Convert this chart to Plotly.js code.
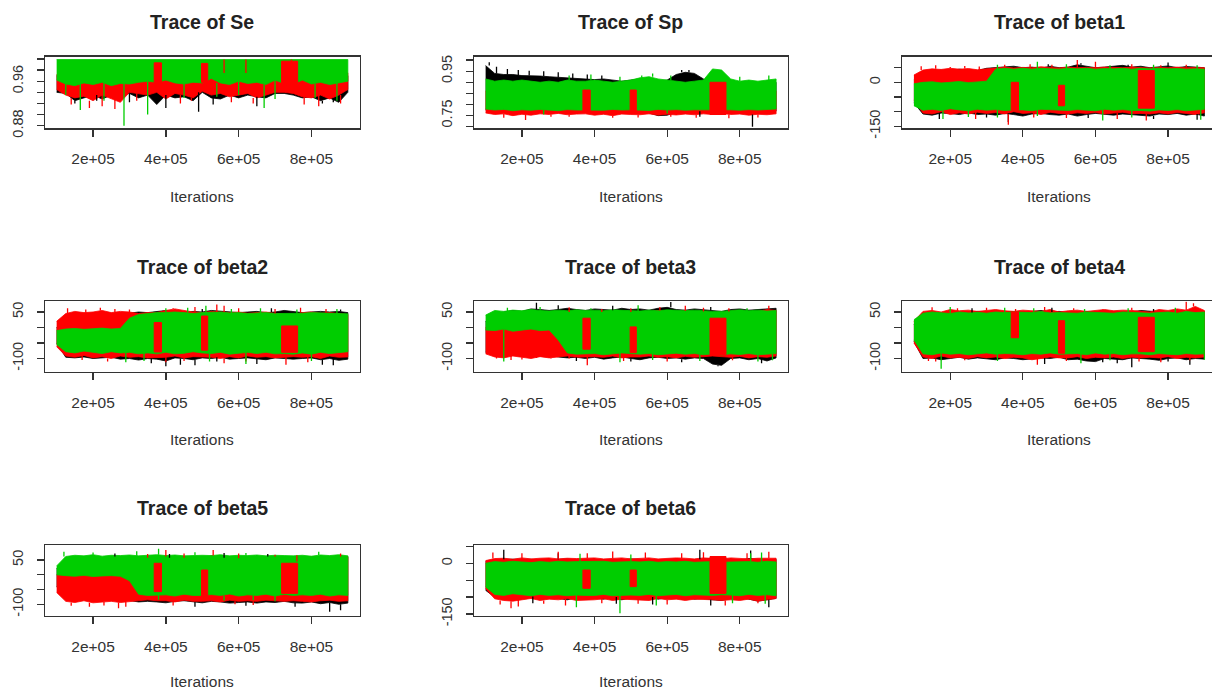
<!DOCTYPE html>
<html><head><meta charset="utf-8">
<script src="https://cdn.plot.ly/plotly-3.0.1.min.js"></script>
<style>html,body{margin:0;padding:0;overflow:hidden;background:#fff}#chart{width:1220px;height:694px}</style>
</head><body><div id="chart"></div>
<script>
// ---------- iterations (bin positions of the envelopes) ----------
const iters = [100000,125000,150000,175000,200000,225000,250000,275000,300000,325000,350000,
               375000,400000,425000,450000,475000,500000,525000,550000,575000,600000,625000,
               650000,675000,700000,725000,750000,775000,800000,825000,850000,875000,900000];
const xTickVals = [200000,400000,600000,800000];
const xTickText = ['2e+05','4e+05','6e+05','8e+05'];
// iterations where the red chain sits in a separate block
const blockStart = [368000,498000,718000];
const blockEnd   = [388000,515000,762000];

// ---------- Se ----------
const seBlackHi = [0.970,0.970,0.970,0.970,0.970,0.970,0.970,0.970,0.970,0.970,0.970,
                   0.970,0.970,0.970,0.970,0.970,0.970,0.970,0.970,0.970,0.970,0.970,
                   0.970,0.970,0.970,0.970,0.970,0.970,0.970,0.970,0.970,0.970,0.970];
const seBlackLo = [0.940,0.938,0.925,0.930,0.935,0.928,0.935,0.935,0.938,0.930,0.935,
                   0.918,0.935,0.930,0.932,0.925,0.940,0.930,0.928,0.935,0.930,0.935,
                   0.932,0.930,0.938,0.938,0.935,0.930,0.932,0.925,0.930,0.922,0.940];
const seRedHi   = [0.972,0.972,0.972,0.972,0.972,0.972,0.972,0.972,0.972,0.972,0.972,
                   0.975,0.975,0.975,0.975,0.975,0.975,0.975,0.975,0.975,0.975,0.975,
                   0.975,0.975,0.975,0.975,0.975,0.975,0.975,0.975,0.975,0.975,0.975];
const seRedLo   = [0.945,0.935,0.930,0.933,0.925,0.935,0.928,0.922,0.940,0.938,0.935,
                   0.940,0.928,0.938,0.935,0.930,0.942,0.935,0.938,0.932,0.935,0.938,
                   0.930,0.935,0.940,0.940,0.938,0.932,0.930,0.935,0.928,0.935,0.945];
const seGreenHi = [0.999,0.999,0.999,0.999,0.999,0.999,0.999,0.999,0.999,0.999,0.999,
                   0.999,0.999,0.999,0.999,0.999,0.999,0.999,0.999,0.999,0.999,0.999,
                   0.999,0.999,0.999,0.999,0.999,0.999,0.999,0.999,0.999,0.999,0.999];
const seGreenLo = [0.962,0.955,0.952,0.957,0.954,0.958,0.952,0.956,0.955,0.958,0.960,
                   0.958,0.962,0.957,0.955,0.958,0.957,0.965,0.957,0.954,0.960,0.956,
                   0.958,0.954,0.962,0.956,0.955,0.962,0.955,0.958,0.954,0.957,0.960];
const seBlockLo = [0.955,0.958,0.948];
const seBlockHi = [0.993,0.992,0.996];
const seBlackSpikeIter = [150000,210000,300000,400000,490000,530000,650000,830000,860000];
const seBlackSpikeVal  = [0.920,0.925,0.922,0.912,0.905,0.918,0.915,0.920,0.922];
const seRedSpikeIter   = [140000,190000,225000,260000,320000,440000,470000,580000,640000,780000,820000,880000,560000,620000,745000];
const seRedSpikeVal    = [0.918,0.912,0.915,0.910,0.925,0.920,0.925,0.922,0.920,0.918,0.915,0.920,0.999,0.999,0.999];
const seGreenSpikeIter = [125000,165000,230000,285000,350000,450000,540000,600000,670000,700000,810000,870000];
const seGreenSpikeVal  = [0.935,0.908,0.925,0.880,0.900,0.930,0.932,0.935,0.912,0.928,0.930,0.925];

// ---------- Sp ----------
const spBlackHi = [0.975,0.940,0.935,0.935,0.930,0.930,0.928,0.925,0.922,0.920,0.915,
                   0.915,0.912,0.915,0.910,0.905,0.910,0.915,0.910,0.905,0.910,0.935,
                   0.945,0.940,0.915,0.890,0.885,0.900,0.900,0.895,0.900,0.900,0.900];
const spBlackLo = [0.775,0.765,0.770,0.768,0.765,0.770,0.768,0.765,0.770,0.766,0.768,
                   0.770,0.765,0.768,0.766,0.770,0.768,0.764,0.762,0.750,0.752,0.765,
                   0.768,0.765,0.770,0.772,0.775,0.768,0.765,0.755,0.766,0.768,0.770];
const spRedHi   = [0.860,0.860,0.860,0.860,0.860,0.860,0.860,0.860,0.860,0.860,0.860,
                   0.860,0.860,0.860,0.860,0.860,0.860,0.860,0.860,0.860,0.860,0.860,
                   0.860,0.860,0.860,0.860,0.860,0.860,0.860,0.860,0.860,0.860,0.860];
const spRedLo   = [0.762,0.755,0.758,0.750,0.756,0.752,0.758,0.755,0.760,0.754,0.757,
                   0.758,0.752,0.756,0.750,0.757,0.755,0.754,0.758,0.752,0.756,0.753,
                   0.757,0.754,0.758,0.755,0.760,0.755,0.757,0.752,0.756,0.754,0.758];
const spGreenHi = [0.915,0.905,0.910,0.905,0.910,0.905,0.900,0.905,0.900,0.910,0.905,
                   0.905,0.910,0.905,0.900,0.905,0.910,0.920,0.925,0.915,0.910,0.905,
                   0.900,0.905,0.910,0.960,0.955,0.915,0.905,0.910,0.905,0.910,0.915];
const spGreenLo = [0.780,0.775,0.778,0.772,0.776,0.774,0.778,0.775,0.772,0.777,0.775,
                   0.775,0.776,0.774,0.778,0.775,0.776,0.776,0.773,0.778,0.775,0.777,
                   0.774,0.776,0.778,0.778,0.776,0.776,0.774,0.777,0.775,0.778,0.780];
const spBlockLo = [0.765,0.770,0.755];
const spBlockHi = [0.865,0.865,0.900];
const spBlackSpikeIter = [110000,130000,160000,190000,220000,260000,300000,340000,380000,420000,640000,660000,690000,835000];
const spBlackSpikeVal  = [0.990,0.970,0.960,0.955,0.952,0.950,0.945,0.940,0.935,0.930,0.955,0.955,0.745,0.700];
const spRedSpikeIter   = [150000,210000,280000,330000,450000,520000,610000,680000,770000,850000];
const spRedSpikeVal    = [0.740,0.730,0.745,0.745,0.740,0.742,0.745,0.740,0.738,0.742];
const spGreenSpikeIter = [330000,390000,470000,530000,560000,610000,800000,880000,260000,600000];
const spGreenSpikeVal  = [0.930,0.935,0.925,0.930,0.940,0.930,0.925,0.930,0.755,0.760];

// ---------- beta1 ----------
const b1BlackHi = [10,38,40,42,40,45,42,40,48,50,52, 55,50,52,48,55,50,52,60,55,50,52, 55,58,52,55,50,52,56,50,54,52,50];
const b1BlackLo = [-70,-108,-112,-105,-106,-110,-104,-110,-108,-112,-106, -110,-115,-108,-106,-110,-112,-108,-115,-110,-106,-108, -112,-108,-110,-112,-115,-108,-110,-106,-112,-108,-115];
const b1RedHi   = [25,42,46,44,48,45,47,43,46,50,52, 49,51,50,53,51,49,52,50,51,50,52, 51,50,52,50,49,51,50,52,50,51,50];
const b1RedLo   = [-60,-105,-108,-100,-110,-104,-108,-102,-106,-103,-108, -100,-106,-104,-110,-102,-106,-108,-104,-106,-103,-108, -105,-102,-107,-106,-108,-104,-108,-103,-106,-110,-104];
const b1GreenHi = [-5,0,2,-2,0,3,-1,1,4,45,48, 45,48,45,48,46,45,48,46,48,45,47, 46,48,45,48,46,48,46,47,45,46,45];
const b1GreenLo = [-80,-95,-92,-96,-90,-94,-97,-92,-95,-93,-96, -94,-94,-97,-92,-95,-95,-96,-93,-95,-97,-92, -95,-93,-96,-96,-98,-94,-96,-93,-97,-95,-92];
const b1BlockLo = [-95,-80,-88];
const b1BlockHi = [0,-10,40];
const b1BlackSpikeIter = [470000,560000,690000,800000,170000,300000,360000,580000,760000,880000];
const b1BlackSpikeVal  = [62,65,60,68,-125,-120,-135,-122,-125,-128];
const b1RedSpikeIter   = [120000,160000,200000,240000,280000,350000,420000,480000,550000,600000,700000,780000,850000,270000,360000,430000,520000,660000,740000];
const b1RedSpikeVal    = [55,58,52,56,54,60,62,60,76,70,62,58,60,-125,-145,-120,-122,-125,-130];
const b1GreenSpikeIter = [330000,440000,520000,640000,760000,880000,180000,250000,330000,440000,620000,700000,890000];
const b1GreenSpikeVal  = [60,70,62,58,60,58,-125,-118,-120,-115,-130,-120,-128];

// ---------- beta2 ----------
const b2BlackHi = [0,35,40,38,42,40,38,42,45,50,48, 52,55,50,48,52,50,55,52,50,48,50, 52,48,50,55,52,48,50,52,50,52,48];
const b2BlackLo = [-50,-96,-98,-95,-100,-98,-96,-102,-100,-105,-100, -102,-108,-98,-100,-104,-98,-100,-96,-102,-100,-98, -100,-104,-98,-100,-102,-100,-98,-104,-100,-106,-102];
const b2RedHi   = [20,45,52,48,50,55,48,52,50,45,48, 48,55,60,55,50,48,52,50,48,50,46, 48,50,45,42,40,48,50,46,48,45,42];
const b2RedLo   = [-62,-92,-96,-90,-98,-94,-100,-92,-96,-94,-98, -96,-96,-92,-98,-94,-94,-96,-100,-94,-98,-92, -96,-94,-98,-96,-94,-96,-94,-100,-92,-96,-95];
const b2GreenHi = [-10,-5,-3,-6,-4,-2,-5,-3,30,42,45, 48,48,50,48,45,48,48,50,47,48,45, 46,48,45,45,46,46,48,47,46,45,44];
const b2GreenLo = [-55,-78,-82,-76,-80,-84,-78,-82,-80,-85,-82, -85,-80,-85,-83,-78,-82,-84,-80,-86,-82,-80, -84,-80,-85,-84,-86,-82,-86,-80,-84,-82,-78];
const b2BlockLo = [-79,-73,-80];
const b2BlockHi = [16,37,5];
const b2BlackSpikeIter = [500000,690000,880000,360000,400000,440000,480000,540000,650000,830000,860000];
const b2BlackSpikeVal  = [60,62,58,-115,-125,-120,-122,-110,-118,-120,-122];
const b2RedSpikeIter   = [130000,180000,220000,260000,300000,420000,480000,540000,560000,600000,700000,770000,840000,170000,240000,400000,450000,560000,620000,730000,790000];
const b2RedSpikeVal    = [62,58,64,60,58,62,66,74,70,62,60,64,60,-105,-110,-112,-108,-115,-110,-120,-112];
const b2GreenSpikeIter = [400000,460000,510000,580000,660000,760000,870000,290000,340000,520000,620000,800000];
const b2GreenSpikeVal  = [62,64,70,60,62,58,60,-112,-108,-110,-118,-108];

// ---------- beta3 ----------
const b3BlackHi = [20,45,50,55,52,60,58,55,58,62,58, 55,60,58,56,62,58,60,56,62,65,58, 56,60,58,55,52,58,60,56,58,60,62];
const b3BlackLo = [-80,-90,-92,-88,-94,-90,-92,-88,-95,-98,-96, -100,-96,-102,-98,-95,-100,-104,-98,-96,-100,-98, -102,-98,-100,-118,-122,-100,-98,-104,-100,-108,-98];
const b3RedHi   = [0,-5,-2,-4,-3,-5,-2,-4,20,50,48, 52,52,50,54,48,50,52,50,55,52,50, 54,50,52,45,45,52,55,50,52,58,55];
const b3RedLo   = [-85,-95,-98,-92,-96,-100,-94,-98,-95,-92,-96, -94,-94,-96,-92,-98,-95,-95,-92,-96,-94,-98, -93,-96,-94,-92,-95,-96,-93,-98,-94,-96,-92];
const b3GreenHi = [40,55,52,56,54,58,55,53,56,54,57, 55,56,54,57,55,55,53,56,54,57,55, 54,56,53,52,52,55,57,54,56,53,55];
const b3GreenLo = [-8,-10,-5,-12,-8,-5,-10,-8,-40,-82,-86, -86,-84,-88,-85,-82,-84,-86,-84,-88,-85,-83, -86,-84,-88,-85,-88,-85,-87,-84,-88,-86,-84];
const b3BlockLo = [-70,-81,-87];
const b3BlockHi = [30,2,30];
const b3BlackSpikeIter = [240000,300000,450000,610000,720000,350000,500000,640000,740000,860000];
const b3BlackSpikeVal  = [80,72,70,82,66,-108,-110,-112,-125,-115];
const b3RedSpikeIter   = [330000,420000,500000,580000,650000,700000,770000,880000,130000,170000,200000,240000,280000,330000,380000,480000,600000,780000];
const b3RedSpikeVal    = [65,60,62,66,70,64,62,70,-100,-105,-103,-98,-100,-100,-122,-108,-110,-106];
const b3GreenSpikeIter = [160000,250000,390000,520000,820000,150000,470000,560000,690000,850000,890000];
const b3GreenSpikeVal  = [64,66,62,72,62,-110,-112,-105,-108,-110,-106];

// ---------- beta4 ----------
const b4BlackHi = [10,48,50,46,52,50,48,52,50,48,52, 50,48,52,55,50,52,48,50,52,48,50, 52,48,50,55,52,50,48,52,50,55,52];
const b4BlackLo = [-45,-100,-98,-104,-100,-96,-102,-98,-100,-104,-98, -100,-104,-102,-98,-100,-96,-104,-102,-108,-110,-100, -102,-104,-98,-100,-102,-106,-100,-98,-104,-100,-102];
const b4RedHi   = [20,52,55,50,58,54,56,52,55,58,54, 52,56,55,52,58,50,54,56,52,55,58, 54,56,55,52,50,58,55,60,56,68,55];
const b4RedLo   = [-50,-95,-100,-92,-98,-96,-100,-94,-98,-95,-100, -96,-98,-104,-100,-95,-98,-98,-94,-100,-96,-98, -95,-100,-96,-98,-96,-98,-94,-100,-96,-98,-95];
const b4GreenHi = [25,46,50,48,45,50,47,49,46,50,48, 50,50,48,52,47,48,48,46,50,48,47, 46,50,48,48,46,48,50,46,52,48,50];
const b4GreenLo = [-40,-85,-88,-82,-86,-84,-88,-85,-82,-86,-84, -85,-88,-84,-86,-82,-86,-86,-84,-88,-82,-86, -84,-88,-85,-85,-88,-84,-86,-88,-84,-86,-85];
const b4BlockLo = [-33,-83,-78];
const b4BlockHi = [50,22,33];
const b4BlackSpikeIter = [260000,480000,760000,460000,620000,660000,700000,800000,860000];
const b4BlackSpikeVal  = [62,64,60,-118,-112,-115,-128,-110,-120];
const b4RedSpikeIter   = [150000,220000,300000,380000,460000,540000,620000,700000,850000,870000,140000,160000,240000,440000,520000,720000,780000,860000];
const b4RedSpikeVal    = [65,62,64,60,66,62,60,64,83,78,-108,-110,-106,-120,-108,-110,-112,-106];
const b4GreenSpikeIter = [200000,350000,430000,570000,690000,820000,175000,330000,560000,640000,900000];
const b4GreenSpikeVal  = [66,64,62,60,62,64,-133,-108,-115,-106,-104];

// ---------- beta5 ----------
const b5BlackHi = [20,58,60,62,60,58,62,60,58,60,62, 60,58,62,60,58,62,60,58,62,60,58, 60,62,58,60,62,58,60,62,58,60,62];
const b5BlackLo = [-40,-80,-85,-82,-84,-80,-86,-82,-88,-92,-90, -92,-95,-90,-88,-92,-95,-90,-92,-96,-94,-92, -96,-92,-94,-90,-95,-96,-92,-98,-94,-100,-96];
const b5RedHi   = [0,-2,-3,0,-2,-1,-3,-2,10,55,58, 52,62,60,58,56,50,65,58,60,56,58, 60,56,62,50,45,58,60,56,58,62,60];
const b5RedLo   = [-60,-90,-94,-88,-95,-92,-90,-94,-92,-88,-85, -88,-88,-92,-86,-90,-90,-88,-92,-86,-90,-88, -90,-86,-88,-90,-88,-90,-92,-88,-86,-90,-88];
const b5GreenHi = [30,62,66,64,68,63,66,65,67,64,66, 68,65,67,64,66,66,65,68,64,66,65, 67,64,66,65,64,66,63,67,65,68,64];
const b5GreenLo = [0,-3,-5,-2,-6,-4,-3,-5,-20,-66,-70, -68,-68,-72,-66,-70,-70,-67,-70,-65,-72,-68, -70,-66,-72,-66,-70,-68,-70,-66,-72,-68,-70];
const b5BlockLo = [-57,-74,-63];
const b5BlockHi = [39,16,39];
const b5BlackSpikeIter = [260000,410000,560000,680000,480000,620000,755000,850000,880000];
const b5BlackSpikeVal  = [72,70,74,70,-108,-105,-108,-125,-120];
const b5RedSpikeIter   = [350000,400000,450000,530000,600000,700000,760000,880000,140000,190000,230000,270000,290000,420000,590000,640000];
const b5RedSpikeVal    = [70,84,72,84,72,68,66,72,-105,-108,-104,-113,-108,-104,-100,-102];
const b5GreenSpikeIter = [120000,200000,320000,380000,480000,620000,820000,380000,560000,640000,700000];
const b5GreenSpikeVal  = [78,75,80,88,76,74,78,-85,-88,-86,-90];

// ---------- beta6 ----------
const b6BlackHi = [5,10,12,12,10,12,9,10,12,13,10, 12,10,9,12,10,13,12,10,9,12,13, 10,12,12,14,13,12,10,14,12,10,12];
const b6BlackLo = [-80,-100,-104,-108,-102,-98,-106,-100,-104,-108,-102, -100,-104,-106,-100,-108,-102,-104,-100,-106,-102,-104, -100,-106,-104,-108,-110,-104,-100,-106,-112,-108,-104];
const b6RedHi   = [8,14,15,12,16,13,15,16,13,15,14, 15,16,13,15,16,13,15,16,13,15,16, 15,13,16,15,13,16,15,13,15,16,15];
const b6RedLo   = [-75,-105,-110,-112,-108,-104,-110,-106,-108,-104,-110, -108,-108,-105,-110,-106,-108,-108,-110,-104,-108,-106, -110,-106,-108,-108,-110,-108,-110,-106,-112,-108,-104];
const b6GreenHi = [0,5,3,6,4,2,5,3,6,4,5, 5,4,6,3,5,5,4,6,3,5,4, 6,3,5,5,3,4,6,5,3,6,4];
const b6GreenLo = [-70,-92,-95,-90,-94,-96,-92,-95,-93,-96,-94, -95,-95,-92,-96,-94,-94,-95,-92,-96,-94,-92, -96,-93,-95,-95,-93,-94,-96,-92,-95,-93,-96];
const b6BlockLo = [-74,-69,-89];
const b6BlockHi = [-20,-20,20];
const b6BlackSpikeIter = [150000,300000,690000,830000,230000,460000,560000,720000,880000];
const b6BlackSpikeVal  = [40,30,40,38,-118,-120,-122,-125,-130];
const b6RedSpikeIter   = [120000,200000,300000,380000,450000,540000,640000,700000,820000,880000,140000,170000,190000,260000,320000,420000,520000,600000,760000,850000];
const b6RedSpikeVal    = [32,30,34,30,35,32,30,33,30,34,-122,-133,-128,-120,-125,-118,-120,-122,-125,-118];
const b6GreenSpikeIter = [360000,500000,830000,860000,350000,470000,570000,780000,870000];
const b6GreenSpikeVal  = [28,26,30,32,-130,-148,-125,-118,-120];

// ---------- axis ticks ----------
const seTicks = [0.88,0.90,0.92,0.94,0.96,0.98,1.00], seTickText = ['0.88','','','','0.96','',''];
const spTicks = [0.70,0.75,0.80,0.85,0.90,0.95,1.00], spTickText = ['','0.75','','','','0.95',''];
const b150Ticks = [-150,-100,-50,0,50], b150TickText = ['-150','','','0',''];
const b100Ticks = [-100,-50,0,50], b100TickText = ['-100','','','50'];

// ---------- layout geometry (pixels) ----------
const W = 1220, H = 694;
const colBox = [[45,359.5],[474,787.7],[902.3,1216]];
const rowBox = [[56.7,128.3],[301.3,372],[545,615.7]];
const titleY = [21.7,266.7,508.3];
const xlabY = [196,439,681.7];
const xRange = [68000,932000];
const COLORS = {black:'#000000', red:'#FF0000', green:'#00CD00'};
const FONT = 'Liberation Sans, Arial, sans-serif';

const panels = [
  {title:'Trace of Se', col:0,row:0, range:[0.8753,1.0041], tv:seTicks, tt:seTickText, block:[seBlockLo,seBlockHi],
   chains:{black:[seBlackHi,seBlackLo,seBlackSpikeIter,seBlackSpikeVal], red:[seRedHi,seRedLo,seRedSpikeIter,seRedSpikeVal], green:[seGreenHi,seGreenLo,seGreenSpikeIter,seGreenSpikeVal]}},
  {title:'Trace of Sp', col:1,row:0, range:[0.693,1.015], tv:spTicks, tt:spTickText, block:[spBlockLo,spBlockHi],
   chains:{black:[spBlackHi,spBlackLo,spBlackSpikeIter,spBlackSpikeVal], red:[spRedHi,spRedLo,spRedSpikeIter,spRedSpikeVal], green:[spGreenHi,spGreenLo,spGreenSpikeIter,spGreenSpikeVal]}},
  {title:'Trace of beta1', col:2,row:0, range:[-156.8,87.5], tv:b150Ticks, tt:b150TickText, block:[b1BlockLo,b1BlockHi],
   chains:{black:[b1BlackHi,b1BlackLo,b1BlackSpikeIter,b1BlackSpikeVal], red:[b1RedHi,b1RedLo,b1RedSpikeIter,b1RedSpikeVal], green:[b1GreenHi,b1GreenLo,b1GreenSpikeIter,b1GreenSpikeVal]}},
  {title:'Trace of beta2', col:0,row:1, range:[-143.5,84.5], tv:b100Ticks, tt:b100TickText, block:[b2BlockLo,b2BlockHi],
   chains:{black:[b2BlackHi,b2BlackLo,b2BlackSpikeIter,b2BlackSpikeVal], red:[b2RedHi,b2RedLo,b2RedSpikeIter,b2RedSpikeVal], green:[b2GreenHi,b2GreenLo,b2GreenSpikeIter,b2GreenSpikeVal]}},
  {title:'Trace of beta3', col:1,row:1, range:[-143.5,84.5], tv:b100Ticks, tt:b100TickText, block:[b3BlockLo,b3BlockHi],
   chains:{black:[b3BlackHi,b3BlackLo,b3BlackSpikeIter,b3BlackSpikeVal], red:[b3RedHi,b3RedLo,b3RedSpikeIter,b3RedSpikeVal], green:[b3GreenHi,b3GreenLo,b3GreenSpikeIter,b3GreenSpikeVal]}},
  {title:'Trace of beta4', col:2,row:1, range:[-143.5,84.5], tv:b100Ticks, tt:b100TickText, block:[b4BlockLo,b4BlockHi],
   chains:{black:[b4BlackHi,b4BlackLo,b4BlackSpikeIter,b4BlackSpikeVal], red:[b4RedHi,b4RedLo,b4RedSpikeIter,b4RedSpikeVal], green:[b4GreenHi,b4GreenLo,b4GreenSpikeIter,b4GreenSpikeVal]}},
  {title:'Trace of beta5', col:0,row:2, range:[-138.6,100.8], tv:b100Ticks, tt:b100TickText, block:[b5BlockLo,b5BlockHi],
   chains:{black:[b5BlackHi,b5BlackLo,b5BlackSpikeIter,b5BlackSpikeVal], red:[b5RedHi,b5RedLo,b5RedSpikeIter,b5RedSpikeVal], green:[b5GreenHi,b5GreenLo,b5GreenSpikeIter,b5GreenSpikeVal]}},
  {title:'Trace of beta6', col:1,row:2, range:[-155,54.1], tv:b150Ticks, tt:b150TickText, block:[b6BlockLo,b6BlockHi],
   chains:{black:[b6BlackHi,b6BlackLo,b6BlackSpikeIter,b6BlackSpikeVal], red:[b6RedHi,b6RedLo,b6RedSpikeIter,b6RedSpikeVal], green:[b6GreenHi,b6GreenLo,b6GreenSpikeIter,b6GreenSpikeVal]}}
];

const traces = [];
const layout = {
  width: W, height: H, margin:{l:0,r:0,t:0,b:0},
  paper_bgcolor:'#ffffff', plot_bgcolor:'#ffffff', showlegend:false,
  font:{family:FONT, color:'#333'}, annotations:[]
};

function nearestIndex(it){
  let best = 0;
  for (let i = 1; i < iters.length; i++) if (Math.abs(iters[i]-it) < Math.abs(iters[best]-it)) best = i;
  return best;
}

panels.forEach((p, idx) => {
  const n = idx + 1;
  const xa = 'x' + (n === 1 ? '' : n), ya = 'y' + (n === 1 ? '' : n);
  const [cl, cr] = colBox[p.col], [rt, rb] = rowBox[p.row];
  const order = ['black','red','green'];
  // envelopes of each chain
  order.forEach(c => {
    const [hi, lo] = p.chains[c];
    traces.push({
      type:'scatter', mode:'lines', xaxis:xa, yaxis:ya,
      x: iters.concat(iters.slice().reverse()),
      y: hi.concat(lo.slice().reverse()),
      fill:'toself', fillcolor:COLORS[c],
      line:{color:COLORS[c], width:0.8},
      hoverinfo:'skip', showlegend:false
    });
  });
  // red chain blocks (drawn over green)
  const [bLo, bHi] = p.block;
  blockStart.forEach((s, j) => {
    const e = blockEnd[j];
    traces.push({
      type:'scatter', mode:'lines', xaxis:xa, yaxis:ya,
      x:[s, e, e, s, s], y:[bLo[j], bLo[j], bHi[j], bHi[j], bLo[j]],
      fill:'toself', fillcolor:COLORS.red, line:{color:COLORS.red, width:1},
      hoverinfo:'skip', showlegend:false
    });
  });
  // single excursions (spikes)
  order.forEach(c => {
    const [hi, lo, sx, sy] = p.chains[c];
    const xs = [], ys = [];
    sx.forEach((it, j) => {
      const k = nearestIndex(it);
      const base = sy[j] < lo[k] ? lo[k] : hi[k];
      xs.push(it, it, null); ys.push(base, sy[j], null);
    });
    if (xs.length) traces.push({
      type:'scatter', mode:'lines', xaxis:xa, yaxis:ya, x:xs, y:ys,
      line:{color:COLORS[c], width:1.3}, hoverinfo:'skip', showlegend:false
    });
  });

  const axKeyX = 'xaxis' + (n === 1 ? '' : n), axKeyY = 'yaxis' + (n === 1 ? '' : n);
  layout[axKeyX] = {
    domain:[cl/W, cr/W], anchor:ya, range:xRange, showgrid:false, zeroline:false,
    showline:true, mirror:true, linecolor:'#333', linewidth:1.4,
    ticks:'outside', ticklen:7, tickwidth:1.3, tickcolor:'#333',
    tickvals:xTickVals, ticktext:xTickText, ticklabelstandoff:9,
    tickfont:{family:FONT, size:15.5, color:'#333'}
  };
  layout[axKeyY] = {
    domain:[1 - rb/H, 1 - rt/H], anchor:xa, range:p.range, showgrid:false, zeroline:false,
    showline:true, mirror:true, linecolor:'#333', linewidth:1.4,
    ticks:'outside', ticklen:7, tickwidth:1.3, tickcolor:'#333',
    tickvals:p.tv, ticktext:p.tt, tickangle:-90, ticklabelstandoff:8,
    tickfont:{family:FONT, size:14.5, color:'#333'}
  };
  const cx = (cl + cr) / 2 / W;
  layout.annotations.push({
    text:'<b>' + p.title + '</b>', xref:'paper', yref:'paper', x:cx, y:1 - titleY[p.row]/H,
    xanchor:'center', yanchor:'middle', showarrow:false,
    font:{family:FONT, size:19.5, color:'#222'}
  });
  layout.annotations.push({
    text:'Iterations', xref:'paper', yref:'paper', x:cx, y:1 - xlabY[p.row]/H,
    xanchor:'center', yanchor:'middle', showarrow:false,
    font:{family:FONT, size:15.5, color:'#333'}
  });
});

Plotly.newPlot('chart', traces, layout, {staticPlot:true, displayModeBar:false});
</script>
</body></html>
